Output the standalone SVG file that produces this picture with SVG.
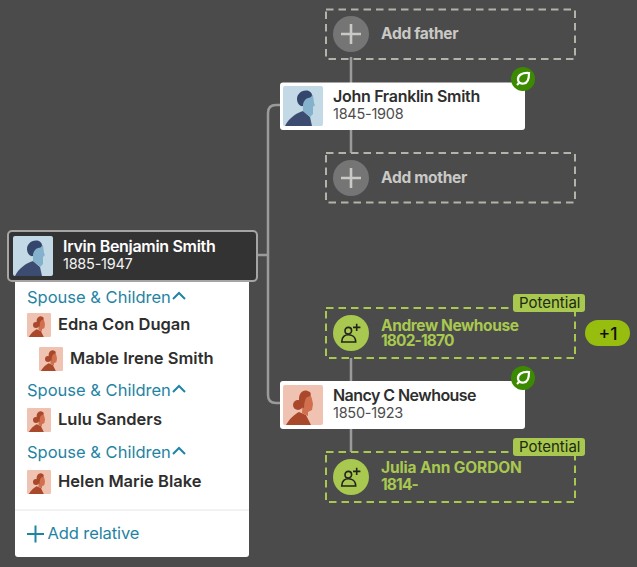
<svg xmlns="http://www.w3.org/2000/svg" width="637" height="567" viewBox="0 0 637 567">
<style>
text{font-family:Inter,"Liberation Sans",sans-serif}
.card{fill:#fff}
.dash{fill:none;stroke:#b4b3a9;stroke-width:2;stroke-dasharray:7.5 5}
.pdash{fill:none;stroke:#a8c84f;stroke-width:2;stroke-dasharray:7.5 5}
.conn{fill:none;stroke:#9a9a9a;stroke-width:2.5}
.addt{font-size:15.5px;font-weight:700;fill:#c9c9c6;letter-spacing:-.3px}
.pt{font-size:15.500px;font-weight:700;fill:#a8c84f;letter-spacing:-.4px}
.ptd{letter-spacing:-.85px}
.nm{font-size:16px;font-weight:600;fill:#2e2e2e;letter-spacing:-.3px}
.dt{font-size:14.500px;fill:#4d4d4d;letter-spacing:-.25px}
.sp{font-size:16.5px;fill:#1f84a3}
.ch{fill:none;stroke:#1f84a3;stroke-width:2}
.rel{font-size:16.5px;font-weight:600;fill:#2e2e2e}
.tag{fill:#a8c84f}
.tagt{font-size:15px;fill:#1f2a10}
.plus{fill:none;stroke:#c9c9c6;stroke-width:2.600}
.ic{fill:none;stroke:#222;stroke-width:1.600}
</style>
<defs>
<g id="m"><rect width="40" height="40" rx="2" fill="#c3d9e5"/><path d="M2 40C5 33 13 27 20 25L27 31L29 40Z" fill="#3c4c70"/><path d="M20 9H30L31 17L32 19L30 21V28L27 31L20 25Z" fill="#84b1cb"/><path d="M26 5C19 3 14 8 14 13C14 17 17 21 20 20C20 16 22 13 25 12C29 12 31 8 26 5Z" fill="#34466b"/></g>
<g id="f"><rect width="40" height="40" rx="2" fill="#efc2b1"/><path d="M3 40C7 33 12 29 16 27L23 30L28 40Z" fill="#a9482a"/><path d="M20 8H27L29 14L30 19L29 25L25 27V31L19 28Z" fill="#d0704f"/><circle cx="15" cy="20" r="5" fill="#a9482a"/><path d="M27 7C21 3 16 7 16 14C16 19 18 23 21 23C21 18 22 14 24 12C26 12 29 10 27 7Z" fill="#a9482a"/></g>
<g id="leaf"><circle r="12" fill="#3b8a00"/><path d="M6 -6C-1 -6.500 -5.500 -4 -5 1C-4.500 4 -2 5 1 4.500C4.500 4 6 0 6 -6Z" fill="none" stroke="#fff" stroke-width="2.200"/><path d="M-6 6L-3 3" stroke="#fff" stroke-width="2.200"/></g>
<g id="pers"><circle r="18" fill="#a8c84f"/><circle cx="-2.700" cy="-2.300" r="3.300" class="ic"/><path d="M-9.300 9C-9.300 3.500 -6 1.800 -2.700 1.800C.6 1.800 4.700 3.500 4.700 9Z" class="ic"/><path d="M2 -5.600H9.400M5.700 -9.300V-1.900" class="ic"/></g>
<g id="add"><circle r="18" fill="#757575"/><path d="M0 -10V10M-10 0H10" class="plus"/></g>
<path id="chev" d="M0 7L6 1L12 7" class="ch"/>
</defs>
<rect width="637" height="567" fill="#4b4b4b"/>
<g id="connectors">
<path class="conn" d="M258 255H268M280 105H276Q268 105 268 113V395Q268 403 276 403H280"/>
<path class="conn" d="M351 57V83M351 130V153M351 358V381M351 429V452"/>
</g>
<g id="add-father">
<rect class="dash" x="326" y="9.500" width="249" height="49.500"/>
<use href="#add" x="351" y="34"/>
<text class="addt" x="381" y="38.500">Add father</text>
</g>
<g id="john">
<rect class="card" x="280" y="82.500" width="245" height="47.500" rx="3"/>
<use href="#m" x="283" y="86"/>
<text class="nm" x="333" y="102">John Franklin Smith</text>
<text class="dt" x="333" y="119">1845-1908</text>
<use href="#leaf" x="523" y="79"/>
</g>
<g id="add-mother">
<rect class="dash" x="326" y="153" width="249" height="49.500"/>
<use href="#add" x="351" y="178"/>
<text class="addt" x="381" y="182.500">Add mother</text>
</g>
<g id="panel">
<rect x="15" y="275" width="234" height="282" rx="3" fill="#fff"/>
<text class="sp" x="27" y="303">Spouse &amp; Children</text><use href="#chev" x="173" y="292"/>
<use href="#f" transform="translate(27 313) scale(.6)"/>
<text class="rel" x="58" y="330">Edna Con Dugan</text>
<use href="#f" transform="translate(39 347) scale(.6)"/>
<text class="rel" x="70" y="364">Mable Irene Smith</text>
<text class="sp" x="27" y="396">Spouse &amp; Children</text><use href="#chev" x="173" y="385"/>
<use href="#f" transform="translate(27 408) scale(.6)"/>
<text class="rel" x="58" y="425">Lulu Sanders</text>
<text class="sp" x="27" y="458">Spouse &amp; Children</text><use href="#chev" x="173" y="447"/>
<use href="#f" transform="translate(27 470) scale(.6)"/>
<text class="rel" x="58" y="487">Helen Marie Blake</text>
<path d="M15 510H249" stroke="#eee" stroke-width="1.500"/>
<path d="M27 534H44M35.500 525.500V542.500" class="ch"/>
<text class="sp" x="47.500" y="539" letter-spacing="-.1">Add relative</text>
</g>
<g id="irvin">
<rect x="8" y="231" width="249" height="50" rx="4" fill="#333" stroke="#a5a5a5" stroke-width="2"/>
<use href="#m" x="13" y="236"/>
<text x="63" y="252" font-size="16" font-weight="600" fill="#fff" letter-spacing="-.3">Irvin Benjamin Smith</text>
<text x="63" y="269" font-size="14.500" fill="#f2f2f2" letter-spacing="-.25">1885-1947</text>
</g>
<g id="andrew">
<rect class="pdash" x="326" y="308" width="249" height="50"/>
<rect class="tag" x="513" y="294" width="72" height="18" rx="3"/>
<text class="tagt" x="519" y="307.500">Potential</text>
<use href="#pers" x="351" y="333"/>
<text class="pt" x="381" y="330.500">Andrew Newhouse</text>
<text class="pt ptd" x="381" y="346">1802-1870</text>
</g>
<g id="more">
<rect x="585" y="320" width="45" height="26" rx="13" fill="#97be0f"/>
<text x="608" y="339.500" font-size="17.500" font-weight="500" fill="#111" text-anchor="middle">+1</text>
</g>
<g id="nancy">
<rect class="card" x="280" y="381" width="245" height="48" rx="3"/>
<use href="#f" x="283" y="385"/>
<text class="nm" x="333" y="401" style="letter-spacing:-.55px">Nancy C Newhouse</text>
<text class="dt" x="333" y="418">1850-1923</text>
<use href="#leaf" x="523" y="378"/>
</g>
<g id="julia">
<rect class="pdash" x="326" y="452" width="249" height="50"/>
<rect class="tag" x="513" y="438" width="72" height="18" rx="3"/>
<text class="tagt" x="519" y="451.500">Potential</text>
<use href="#pers" x="351" y="477"/>
<text class="pt" x="381" y="473" style="letter-spacing:-.15px">Julia Ann GORDON</text>
<text class="pt ptd" x="381" y="490">1814-</text>
</g>
</svg>
